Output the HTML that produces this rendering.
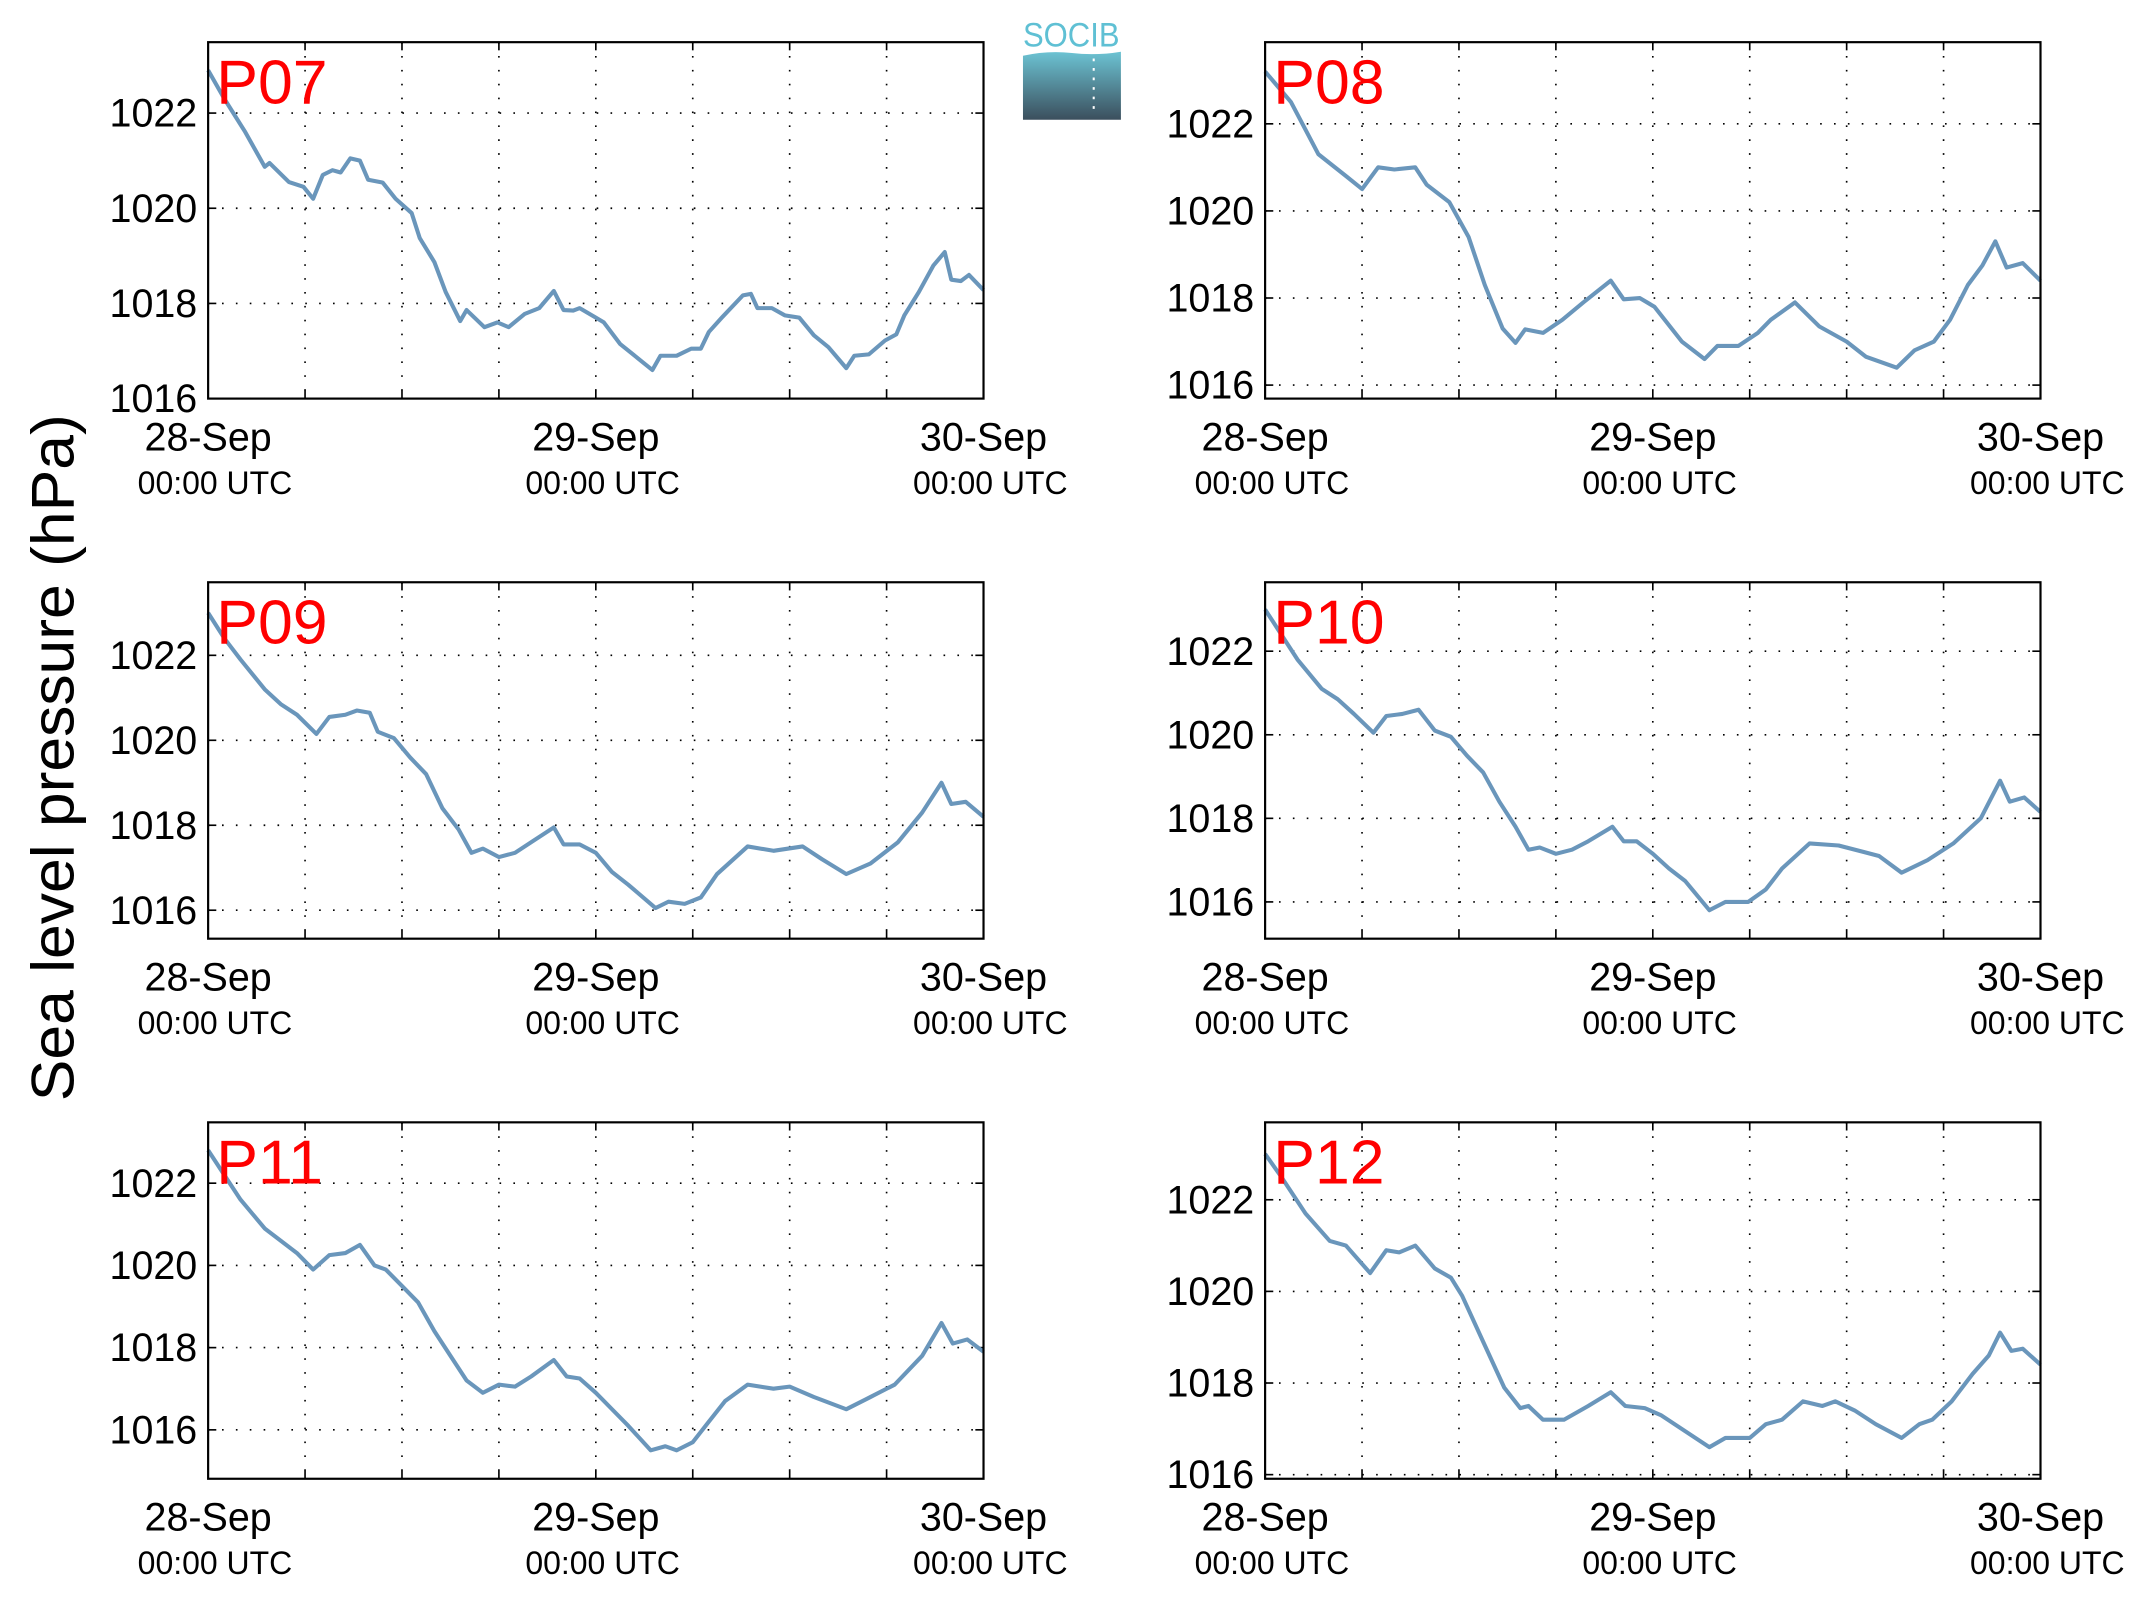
<!DOCTYPE html>
<html><head><meta charset="utf-8"><style>
html,body{margin:0;padding:0;background:#fff;}
svg{display:block;}
text{font-family:"Liberation Sans",sans-serif;}
</style></head><body>
<svg id="fig" width="2133" height="1608" viewBox="0 0 1568 1182" preserveAspectRatio="none" xmlns="http://www.w3.org/2000/svg">
<defs><linearGradient id="lg" x1="0" y1="0" x2="0" y2="1"><stop offset="0" stop-color="#6cc3d3"/><stop offset="1" stop-color="#3b4f5d"/></linearGradient></defs>
<rect width="1568" height="1182" fill="#fff"/>
<g>
<text x="752" y="34" font-size="25" fill="#5fc0d4" textLength="71" lengthAdjust="spacingAndGlyphs">SOCIB</text>
<path d="M752,41 Q770,37 788,39 Q806,41 824,38 L824,88 L752,88 Z" fill="url(#lg)"/>
<line x1="804" y1="43" x2="804" y2="80" stroke="#fff" stroke-width="1.5" stroke-dasharray="2,5"/>
</g>
<text transform="translate(54,557) rotate(-90)" font-size="44" text-anchor="middle" textLength="505" lengthAdjust="spacingAndGlyphs">Sea level pressure (hPa)</text>
</svg>
<script>
const hoursP07=[0,1,2.3,3.5,3.8,5,5.9,6.5,7.1,7.7,8.2,8.8,9.4,9.9,10.8,11.6,12.6,13.1,14,14.7,15.6,16,17.1,17.9,18.6,19.6,20.5,21.4,22,22.6,23,24,24.5,25.5,27.5,28,29,29.9,30.5,31,31.8,33.1,33.6,34,34.9,35.7,36.6,37.5,38.4,39.5,40,40.9,41.9,42.6,43.1,44,44.9,45.6,46,46.6,47.1,48];
const valuesP07=[1022.9,1022.3,1021.6,1020.87,1020.95,1020.55,1020.45,1020.2,1020.7,1020.8,1020.75,1021.05,1021.0,1020.6,1020.54,1020.2,1019.9,1019.37,1018.87,1018.24,1017.63,1017.86,1017.5,1017.6,1017.5,1017.78,1017.9,1018.26,1017.86,1017.85,1017.9,1017.7,1017.6,1017.15,1016.6,1016.9,1016.9,1017.05,1017.05,1017.4,1017.7,1018.17,1018.2,1017.9,1017.9,1017.75,1017.7,1017.33,1017.08,1016.64,1016.9,1016.93,1017.22,1017.35,1017.75,1018.24,1018.8,1019.08,1018.5,1018.47,1018.6,1018.28];
const hoursP08=[0,1.6,3.3,5,6,7,8,9.3,10,11.4,12.6,13.6,14.7,15.5,16.1,17.2,18.4,19.7,21.4,22.2,23.2,24.1,25.8,27.2,28,29.3,30.5,31.3,32.8,34.3,36,37.2,39.1,40.2,41.4,42.4,43.5,44.4,45.2,45.9,46.9,48];
const valuesP08=[1023.2,1022.5,1021.3,1020.8,1020.5,1021.0,1020.95,1021.0,1020.6,1020.2,1019.4,1018.3,1017.3,1016.97,1017.28,1017.2,1017.5,1017.9,1018.4,1017.97,1018.0,1017.8,1017.0,1016.6,1016.9,1016.9,1017.2,1017.5,1017.9,1017.35,1017.0,1016.65,1016.4,1016.8,1017.0,1017.5,1018.3,1018.75,1019.3,1018.7,1018.8,1018.4];
const hoursP09=[0,1,2,3.5,4.5,5.5,6.7,7.5,8.5,9.2,10,10.5,11.5,12.5,13.5,14.5,15.5,16.3,17,18,19,20,21.4,22,23,24,25,26,27.7,28.5,29.5,30.5,31.5,33.4,35,36.8,38,39.5,41,42.7,44.2,45.4,46,46.9,48];
const valuesP09=[1023.0,1022.4,1021.9,1021.2,1020.85,1020.6,1020.15,1020.55,1020.6,1020.7,1020.65,1020.2,1020.05,1019.6,1019.2,1018.4,1017.9,1017.35,1017.45,1017.25,1017.35,1017.6,1017.95,1017.55,1017.55,1017.35,1016.9,1016.6,1016.05,1016.2,1016.15,1016.3,1016.85,1017.5,1017.4,1017.5,1017.2,1016.85,1017.1,1017.6,1018.3,1019.0,1018.5,1018.55,1018.2];
const hoursP10=[0,1,2,3.5,4.5,5.5,6.7,7.5,8.5,9.5,10.5,11.5,12.5,13.5,14.5,15.5,16.3,17,18,19,20,21.5,22.2,23,24,25,26,27.5,28.5,29.9,31,32,33.7,35.5,37,38,39.4,41,42.6,44.3,45.5,46.1,47,48];
const valuesP10=[1023.0,1022.4,1021.8,1021.1,1020.85,1020.5,1020.05,1020.45,1020.5,1020.6,1020.1,1019.95,1019.5,1019.1,1018.4,1017.8,1017.25,1017.3,1017.15,1017.25,1017.45,1017.8,1017.45,1017.45,1017.15,1016.8,1016.5,1015.8,1016.0,1016.0,1016.3,1016.8,1017.4,1017.35,1017.2,1017.1,1016.7,1017.0,1017.4,1018.0,1018.9,1018.4,1018.5,1018.15];
const hoursP11=[0,1,2,3.5,4.5,5.5,6.5,7.5,8.5,9.4,10.3,11,12,13,14,15,16,17,18,19,20,21.4,22.2,23,24,25,26,27.4,28.3,29,30,31,32,33.4,35,36,37.5,39.5,41,42.5,44.2,45.4,46.1,47,48];
const valuesP11=[1022.8,1022.2,1021.6,1020.9,1020.6,1020.3,1019.9,1020.25,1020.3,1020.5,1020.0,1019.9,1019.5,1019.1,1018.4,1017.8,1017.2,1016.9,1017.1,1017.05,1017.3,1017.7,1017.3,1017.25,1016.9,1016.5,1016.1,1015.5,1015.6,1015.5,1015.7,1016.2,1016.7,1017.1,1017.0,1017.05,1016.8,1016.5,1016.8,1017.1,1017.8,1018.6,1018.1,1018.2,1017.9];
const hoursP12=[0,1,2.5,4,5,6.5,7.5,8.3,9.3,10.5,11.5,12.2,13.5,14.8,15.8,16.3,17.2,18.5,20,21.4,22.3,23.5,24.5,26,27.5,28.5,30,31,32,33.3,34.5,35.3,36.5,37.8,39.4,40.5,41.3,42.5,43.8,44.8,45.5,46.2,46.9,48];
const valuesP12=[1023.0,1022.5,1021.7,1021.1,1021.0,1020.4,1020.9,1020.85,1021.0,1020.5,1020.3,1019.9,1018.9,1017.9,1017.45,1017.5,1017.2,1017.2,1017.5,1017.8,1017.5,1017.45,1017.3,1016.95,1016.6,1016.8,1016.8,1017.1,1017.2,1017.6,1017.5,1017.6,1017.4,1017.1,1016.8,1017.1,1017.2,1017.6,1018.2,1018.6,1019.1,1018.7,1018.75,1018.4];
const yTicks=[1016,1018,1020,1022];
const xDateLabels=["28-Sep","29-Sep","30-Sep"];
const xTimeLabel="00:00 UTC";
const panelNames=["P07","P08","P09","P10","P11","P12"];
const panelHours=[hoursP07,hoursP08,hoursP09,hoursP10,hoursP11,hoursP12];
const panelValues=[valuesP07,valuesP08,valuesP09,valuesP10,valuesP11,valuesP12];
const panelYMin=[1016.0,1015.69,1015.33,1015.12,1014.81,1015.91];
const panelYMax=[1023.49,1023.875,1023.72,1023.65,1023.48,1023.69];

const NS="http://www.w3.org/2000/svg";
const svg=document.getElementById('fig');
function mk(tag,attrs,parent){const e=document.createElementNS(NS,tag);for(const k in attrs)e.setAttribute(k,attrs[k]);parent.appendChild(e);return e;}
const lefts=[153,930], tops=[31,428,825], W=570, H=262;
panelNames.forEach((name,i)=>{
  const L=lefts[i%2], T=tops[Math.floor(i/2)], R=L+W, B=T+H;
  const g=mk('g',{},svg);
  
  
  const ymin=panelYMin[i], ymax=panelYMax[i];
  const xs=h=>L+h/48*W, ys=v=>B-(v-ymin)/(ymax-ymin)*H;
  for(let k=1;k<8;k++){const x=xs(k*6);
    const gl=mk('line',{x1:x,y1:T,x2:x,y2:B,stroke:'#000','stroke-width':1.2,'stroke-dasharray':'1.2,9'},g);
    
    mk('line',{x1:x,y1:T,x2:x,y2:T+6,stroke:'#000','stroke-width':1.2},g);
    mk('line',{x1:x,y1:B,x2:x,y2:B-6,stroke:'#000','stroke-width':1.2},g);}
  yTicks.forEach(v=>{const y=ys(v);
    const gl=mk('line',{x1:L,y1:y,x2:R,y2:y,stroke:'#000','stroke-width':1.2,'stroke-dasharray':'1.2,9'},g);
    
    mk('line',{x1:L,y1:y,x2:L+6,y2:y,stroke:'#000','stroke-width':1.2},g);
    mk('line',{x1:R,y1:y,x2:R-6,y2:y,stroke:'#000','stroke-width':1.2},g);
    const t=mk('text',{x:L-8,y:y+10,'font-size':29,'text-anchor':'end'},g);
    
    
    t.textContent=v;});
  const hs=panelHours[i], vs=panelValues[i];
  const d=hs.map((h,j)=>(j?'L':'M')+xs(h).toFixed(1)+','+ys(vs[j]).toFixed(1)).join(' ');
  const p=mk('path',{d:d,fill:'none',stroke:'#6a96bb','stroke-width':3,'stroke-linejoin':'round'},g);
  
  
  const fr=mk('rect',{x:L,y:T,width:W,height:H,fill:'none',stroke:'#000','stroke-width':1.6},g);
  
  
  const lab=mk('text',{x:L+6,y:T+45,'font-size':46,fill:'#ff0000'},g);
  
  
  lab.textContent=name;
  xDateLabels.forEach((s,k)=>{const x=xs(k*24);
    const a=mk('text',{x:x,y:B+38,'font-size':29,'text-anchor':'middle'},g);
    
    
    a.textContent=s;
    const b=mk('text',{x:x+5,y:B+70,'font-size':23.5,'text-anchor':'middle'},g);
    
    
    b.textContent=xTimeLabel;});
});
</script>
</body></html>
